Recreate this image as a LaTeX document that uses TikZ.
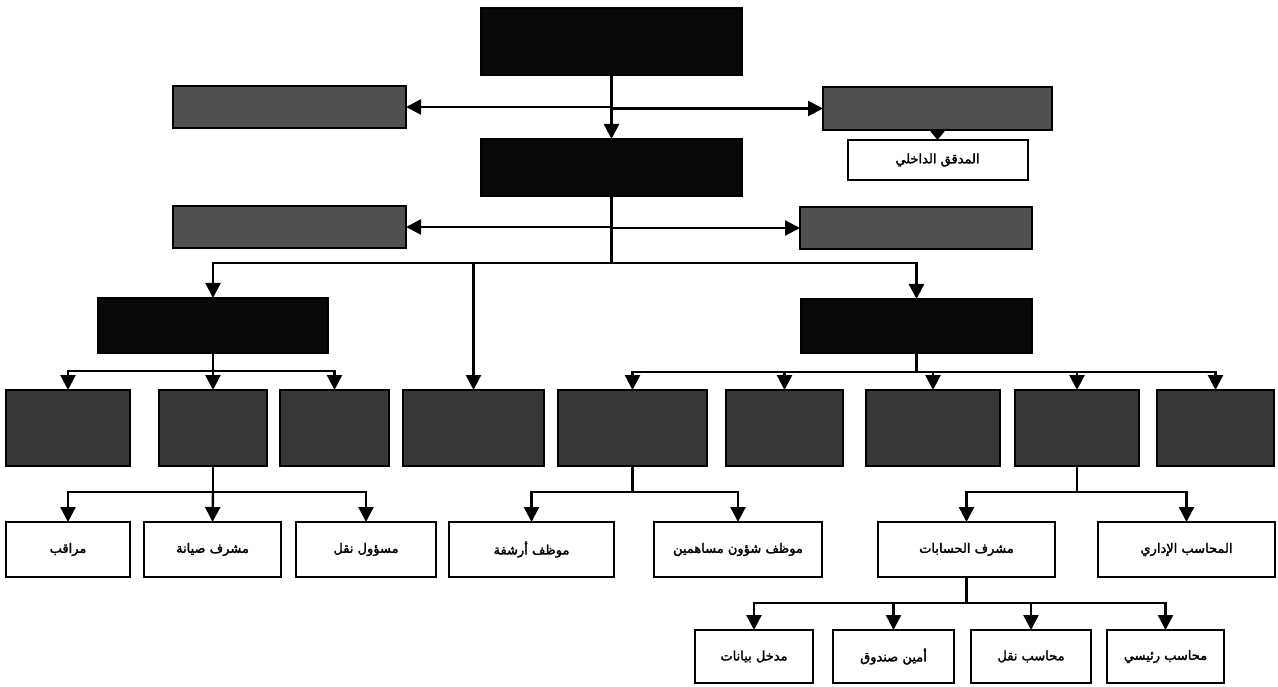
\documentclass[tikz,border=0pt]{standalone}
\usepackage{fontspec}
\newfontfamily\arfont[Script=Arabic,FakeBold=2]{DejaVu Sans}
\TeXXeTstate=1
\usetikzlibrary{arrows.meta}
\definecolor{darkbox}{HTML}{080808}
\definecolor{midshade}{HTML}{505050}
\definecolor{deepshade}{HTML}{383838}
\begin{document}
\begin{tikzpicture}[x=1pt,y=-1pt,
  box/.style={draw=black, line width=2pt, inner sep=0pt, outer sep=0pt,
    fill=white, align=center, font=\arfont\fontsize{13}{15}\selectfont},
  darkbox/.style={box, fill=darkbox},
  midbox/.style={box, fill=midshade},
  deepbox/.style={box, fill=deepshade},
  conn/.style={line width=2.4pt, draw=black},
  arr/.style={conn, -{Triangle[length=15pt,width=15pt]}},
  shortarr/.style={conn, -{Triangle[length=9pt,width=14pt]}}
]
\useasboundingbox[fill=white] (0,0) rectangle (1278,687);

% level 0-1
\node[darkbox, minimum width=261pt, minimum height=67pt] (top) at (611.5,41.5) {};
\node[midbox, minimum width=233pt, minimum height=42pt] (s1L) at (289.5,107) {};
\node[midbox, minimum width=229pt, minimum height=43pt] (s1R) at (937.5,108.5) {};
\node[box, minimum width=180pt, minimum height=40pt] (aud) at (937.5,160) {\beginR المدقق الداخلي\endR};
\node[darkbox, minimum width=261pt, minimum height=57pt] (box2) at (611.5,167.5) {};
\node[midbox, minimum width=233pt, minimum height=42pt] (s2L) at (289.5,227) {};
\node[midbox, minimum width=232pt, minimum height=42pt] (s2R) at (916,228) {};

% level 2
\node[darkbox, minimum width=230pt, minimum height=55pt] (L) at (213,325.5) {};
\node[darkbox, minimum width=231pt, minimum height=54pt] (R) at (916.5,326) {};

% level 3 (shaded)
\node[deepbox, minimum width=124pt, minimum height=76pt] (A) at (68,428) {};
\node[deepbox, minimum width=108pt, minimum height=76pt] (B) at (213,428) {};
\node[deepbox, minimum width=109pt, minimum height=76pt] (C) at (334.5,428) {};
\node[deepbox, minimum width=141pt, minimum height=76pt] (D) at (473.5,428) {};
\node[deepbox, minimum width=149pt, minimum height=76pt] (E) at (632.5,428) {};
\node[deepbox, minimum width=117pt, minimum height=76pt] (F) at (784.5,428) {};
\node[deepbox, minimum width=134pt, minimum height=76pt] (G) at (933,428) {};
\node[deepbox, minimum width=124pt, minimum height=76pt] (H) at (1077,428) {};
\node[deepbox, minimum width=117pt, minimum height=76pt] (I) at (1215.5,428) {};

% level 4
\node[box, minimum width=124pt, minimum height=55pt] (m1) at (68,549.5) {\beginR مراقب\endR};
\node[box, minimum width=137pt, minimum height=55pt] (m2) at (212.5,549.5) {\beginR مشرف صيانة\endR};
\node[box, minimum width=140pt, minimum height=55pt] (m3) at (366,549.5) {\beginR مسؤول نقل\endR};
\node[box, minimum width=165pt, minimum height=55pt] (e1) at (531.5,549.5) {\beginR موظف أرشفة\endR};
\node[box, minimum width=168pt, minimum height=55pt] (e2) at (738,549.5) {\beginR موظف شؤون مساهمين\endR};
\node[box, minimum width=177pt, minimum height=55pt] (h1) at (966.5,549.5) {\beginR مشرف الحسابات\endR};
\node[box, minimum width=177pt, minimum height=55pt] (h2) at (1186.5,549.5) {\beginR المحاسب الإداري\endR};

% level 5
\node[box, minimum width=118pt, minimum height=53pt] (b1) at (754,656.5) {\beginR مدخل بيانات\endR};
\node[box, minimum width=121pt, minimum height=53pt] (b2) at (893.5,656.5) {\beginR أمين صندوق\endR};
\node[box, minimum width=120pt, minimum height=53pt] (b3) at (1031,656.5) {\beginR محاسب نقل\endR};
\node[box, minimum width=117pt, minimum height=53pt] (b4) at (1165.5,656.5) {\beginR محاسب رئيسي\endR};

% junction coordinates
\coordinate (j1L) at (s1L.east -| top.south);
\coordinate (j1R) at (s1R.west -| top.south);
\coordinate (j2L) at (s2L.east -| box2.south);
\coordinate (j2R) at (s2R.west -| box2.south);
\coordinate (bus1) at (611.5,263);
\coordinate (busL) at (213,371);
\coordinate (busR) at (916.5,372);
\coordinate (busB) at (213,492);
\coordinate (busE) at (632.5,492);
\coordinate (busH) at (1077,492);
\coordinate (busH1) at (966.5,603);

% connectors
\draw[arr] (top.south) -- (box2.north);
\draw[arr] (j1L) -- (s1L.east);
\draw[arr] (j1R) -- (s1R.west);
\draw[shortarr] (s1R.south) -- (aud.north);
\draw[conn] (box2.south) -- (bus1);
\draw[arr] (j2L) -- (s2L.east);
\draw[arr] (j2R) -- (s2R.west);
\draw[arr] (bus1) -| (L.north);
\draw[arr] (bus1) -| (D.north);
\draw[arr] (bus1) -| (R.north);

\draw[conn] (L.south) -- (busL);
\draw[arr] (busL) -| (A.north);
\draw[arr] (busL) -- (B.north);
\draw[arr] (busL) -| (C.north);

\draw[conn] (R.south) -- (busR);
\draw[arr] (busR) -| (E.north);
\draw[arr] (busR) -| (F.north);
\draw[arr] (busR) -| (G.north);
\draw[arr] (busR) -| (H.north);
\draw[arr] (busR) -| (I.north);

\draw[conn] (B.south) -- (busB);
\draw[arr] (busB) -| (m1.north);
\draw[arr] (busB) -- (m2.north);
\draw[arr] (busB) -| (m3.north);

\draw[conn] (E.south) -- (busE);
\draw[arr] (busE) -| (e1.north);
\draw[arr] (busE) -| (e2.north);

\draw[conn] (H.south) -- (busH);
\draw[arr] (busH) -| (h1.north);
\draw[arr] (busH) -| (h2.north);

\draw[conn] (h1.south) -- (busH1);
\draw[arr] (busH1) -| (b1.north);
\draw[arr] (busH1) -| (b2.north);
\draw[arr] (busH1) -| (b3.north);
\draw[arr] (busH1) -| (b4.north);
\end{tikzpicture}
\end{document}
